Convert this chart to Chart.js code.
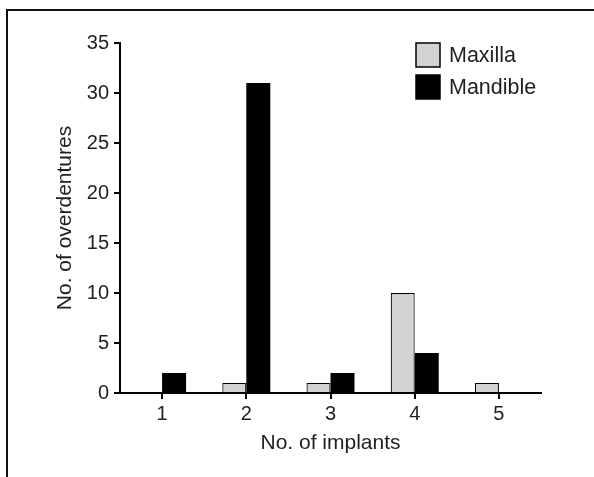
<!DOCTYPE html>
<html>
<head>
<meta charset="utf-8">
<script src="https://cdn.jsdelivr.net/npm/chart.js@4.4.1/dist/chart.umd.min.js"></script>
<style>
  html, body { margin: 0; padding: 0; background: #fff; }
  #wrap { position: relative; width: 594px; height: 477px; overflow: hidden; }
  #frame { position: absolute; left: 6px; top: 9px; right: -4px; bottom: -4px;
           border-left: 2px solid #111; border-top: 2px solid #111; }
  #chart { position: absolute; left: 0; top: 0; }
</style>
</head>
<body>
<div id="wrap">
  <div id="frame"></div>
  <canvas id="chart" width="594" height="477"></canvas>
</div>
<script>
// counts
const implants = ['1', '2', '3', '4', '5'];
const maxilla = [0, 1, 1, 10, 1];
const mandible = [2, 31, 2, 4, 0];
const yTicks = [0, 5, 10, 15, 20, 25, 30, 35];

const FONT = '"Liberation Sans", Arial, sans-serif';
const INK = '#1f1f1f';

// stacked legend in the top-right corner of the plot
const boxLegend = {
  id: 'boxLegend',
  afterDraw(chart) {
    const ctx = chart.ctx;
    const x = chart.chartArea.right - 125;
    let y = chart.chartArea.top;
    ctx.save();
    ctx.font = '21.5px ' + FONT;
    ctx.textBaseline = 'middle';
    chart.data.datasets.forEach(ds => {
      ctx.fillStyle = ds.backgroundColor;
      ctx.fillRect(x, y, 24, 24);
      ctx.strokeStyle = '#000';
      ctx.lineWidth = 1.5;
      ctx.strokeRect(x, y, 24, 24);
      ctx.fillStyle = INK;
      ctx.fillText(ds.label, x + 33, y + 13);
      y += 32;
    });
    ctx.restore();
  }
};

new Chart(document.getElementById('chart'), {
  type: 'bar',
  data: {
    labels: implants,
    datasets: [
      { label: 'Maxilla', data: maxilla, backgroundColor: '#d3d3d3', borderColor: '#000', borderWidth: 1.2 },
      { label: 'Mandible', data: mandible, backgroundColor: '#000', borderColor: '#000', borderWidth: 0 }
    ]
  },
  options: {
    responsive: false,
    animation: false,
    categoryPercentage: 0.57,
    barPercentage: 1,
    layout: { padding: { left: 53, top: 43, right: 53, bottom: 21 } },
    plugins: { legend: { display: false }, tooltip: { enabled: false } },
    scales: {
      x: {
        afterFit(s) { s.height = 63; },
        border: { color: '#000', width: 2 },
        grid: { offset: false, drawOnChartArea: false, color: '#000', lineWidth: 2, tickLength: 6 },
        ticks: { color: INK, font: { family: FONT, size: 20 }, padding: 3 },
        title: { display: true, text: 'No. of implants', color: INK, font: { family: FONT, size: 21 }, padding: 0 }
      },
      y: {
        min: 0,
        max: 35,
        afterFit(s) { s.width = 67; },
        afterBuildTicks(s) { s.ticks = yTicks.map(v => ({ value: v })); },
        border: { color: '#000', width: 2 },
        grid: { drawOnChartArea: false, color: '#000', lineWidth: 2, tickLength: 6 },
        ticks: { color: INK, font: { family: FONT, size: 20 }, padding: 5 },
        title: { display: true, text: 'No. of overdentures', color: INK, font: { family: FONT, size: 21 }, padding: 0 }
      }
    }
  },
  plugins: [boxLegend]
});
</script>
</body>
</html>
